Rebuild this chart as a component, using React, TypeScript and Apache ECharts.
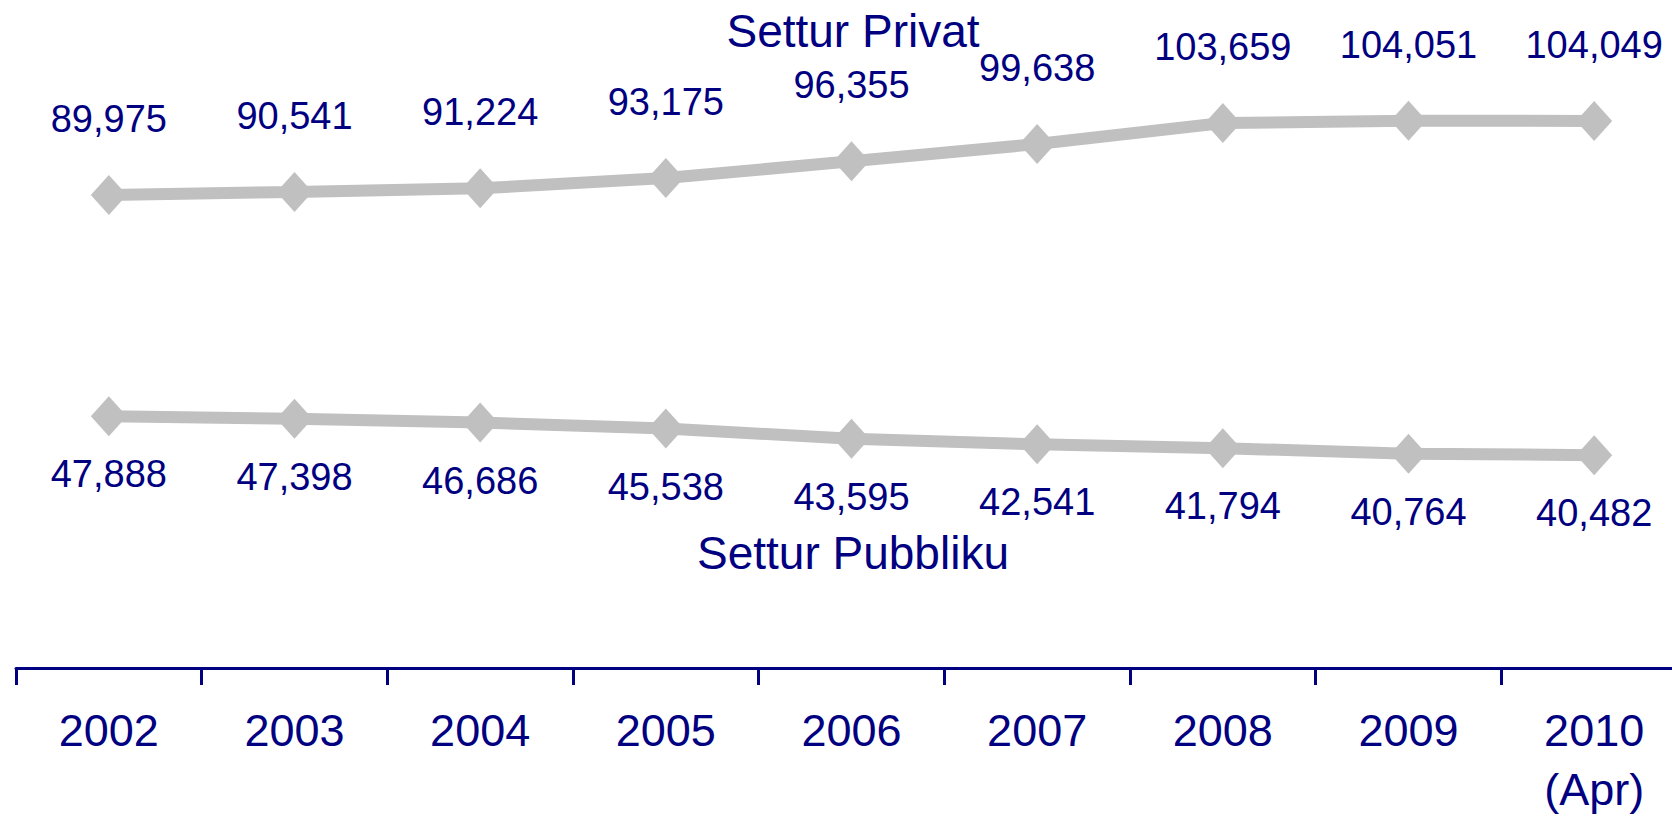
import React, { useEffect, useRef } from "react";
import * as echarts from "echarts";

const years = ["2002", "2003", "2004", "2005", "2006", "2007", "2008", "2009", "2010\n(Apr)"];
const seriesNames = ["Settur Privat", "Settur Pubbliku"];
const privateValues = [89975, 90541, 91224, 93175, 96355, 99638, 103659, 104051, 104049];
const publicValues = [47888, 47398, 46686, 45538, 43595, 42541, 41794, 40764, 40482];

const NAVY = "#000080";
const GREY = "#C0C0C0";
const FONT = "'Liberation Sans', Arial, Helvetica, sans-serif";

const fmt = (v: number) => String(v).replace(/\B(?=(\d{3})+(?!\d))/g, ",");

export default function App() {
  const ref = useRef<HTMLDivElement>(null);
  useEffect(() => {
    if (!ref.current) return;
    const chart = echarts.init(ref.current, undefined, { renderer: "svg" });
    const labelBase = {
      show: true,
      color: NAVY,
      fontSize: 38,
      lineHeight: 38,
      fontFamily: FONT,
      formatter: (p: any) => fmt(p.value),
    };
    chart.setOption({
      animation: false,
      backgroundColor: "#ffffff",
      grid: { left: 16, top: 37, width: 1671, height: 638, containLabel: false },
      xAxis: {
        type: "category",
        data: years,
        boundaryGap: true,
        offset: 3,
        axisLine: { show: true, lineStyle: { color: NAVY, width: 3 } },
        axisTick: { show: true, length: 17, lineStyle: { color: NAVY, width: 3 } },
        axisLabel: {
          interval: 0,
          color: NAVY,
          fontSize: 45,
          lineHeight: 59,
          margin: 30,
          fontFamily: FONT,
          hideOverlap: false,
        },
        splitLine: { show: false },
      },
      yAxis: {
        type: "value",
        min: 0,
        max: 120000,
        show: false,
        splitLine: { show: false },
      },
      graphic: [
        {
          type: "text",
          x: 853,
          y: 31,
          style: {
            text: seriesNames[0],
            fill: NAVY,
            fontSize: 46,
            fontFamily: FONT,
            align: "center",
            verticalAlign: "middle",
          },
        },
        {
          type: "text",
          x: 853,
          y: 553,
          style: {
            text: seriesNames[1],
            fill: NAVY,
            fontSize: 46,
            fontFamily: FONT,
            align: "center",
            verticalAlign: "middle",
          },
        },
      ],
      series: [
        {
          name: seriesNames[0],
          type: "line",
          data: privateValues,
          symbol: "diamond",
          symbolSize: [36, 40],
          showAllSymbol: true,
          lineStyle: { color: GREY, width: 12 },
          itemStyle: { color: GREY },
          label: { ...labelBase, position: "top", distance: 37 },
          z: 3,
        },
        {
          name: seriesNames[1],
          type: "line",
          data: publicValues,
          symbol: "diamond",
          symbolSize: [36, 40],
          showAllSymbol: true,
          lineStyle: { color: GREY, width: 12 },
          itemStyle: { color: GREY },
          label: { ...labelBase, position: "bottom", distance: 19 },
          z: 3,
        },
      ],
    });
    return () => chart.dispose();
  }, []);
  return (
    <div
      style={{ position: "absolute", left: 0, top: 0, width: 1672, height: 819, overflow: "hidden" }}
    >
      <div ref={ref} style={{ width: 1700, height: 819 }} />
    </div>
  );
}
